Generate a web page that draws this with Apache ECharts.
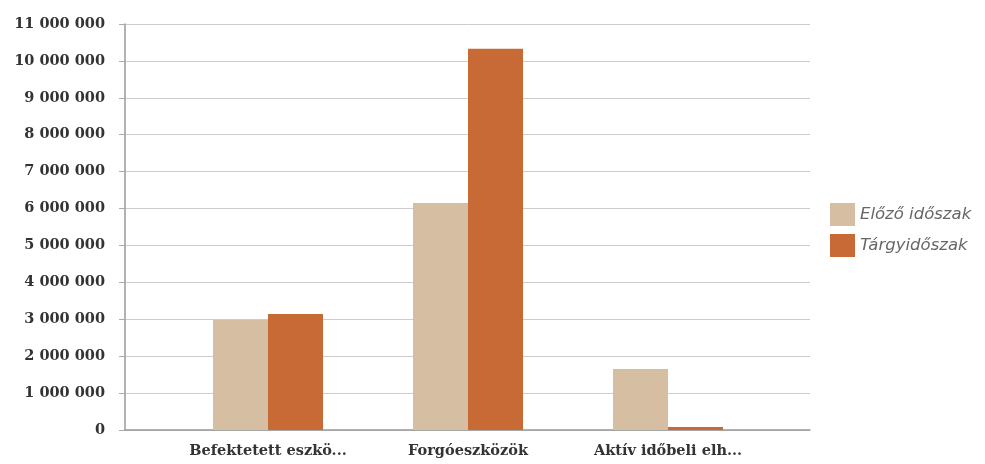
<!DOCTYPE html>
<html>
<head>
<meta charset="utf-8">
<script src="https://cdn.jsdelivr.net/npm/echarts@6/dist/echarts.min.js"></script>
<style>html,body{margin:0;padding:0;background:#fff;}#c{width:985px;height:464px;}</style>
</head>
<body>
<div id="c"></div>
<script>
var categories = ['Befektetett eszkö...', 'Forgóeszközök', 'Aktív időbeli elh...'];
var seriesNames = ['Előző időszak', 'Tárgyidőszak'];
var elozo = [2980000, 6150000, 1650000];
var targy = [3140000, 10330000, 80000];
var yMax = 11000000;
var yStep = 1000000;

function fmt(v) {
  return String(v).replace(/\B(?=(\d{3})+(?!\d))/g, ' ');
}

var chart = echarts.init(document.getElementById('c'));
chart.setOption({
  animation: false,
  backgroundColor: '#fff',
  legend: {
    orient: 'vertical',
    left: 825,
    top: 198,
    itemWidth: 25,
    itemHeight: 23,
    itemGap: 8,
    icon: 'rect',
    textStyle: { fontFamily: 'DejaVu Sans', fontStyle: 'italic', fontSize: 16.5, color: '#666', padding: [0, 0, 0, 0] },
    data: seriesNames
  },
  grid: [
    { left: 125, right: 175, top: 24, bottom: 34 },
    { left: 168, right: 217, top: 24, bottom: 34 }
  ],
  xAxis: [
    { gridIndex: 0, type: 'value', min: 0, max: 1, show: true,
      axisLine: { show: true, lineStyle: { color: '#999', width: 1.5 } },
      axisTick: { show: false }, axisLabel: { show: false }, splitLine: { show: false } },
    { gridIndex: 1, type: 'category', data: categories,
      axisLine: { show: false }, axisTick: { show: false },
      axisLabel: { interval: 0, hideOverlap: false, margin: 14, fontFamily: 'DejaVu Serif', fontWeight: 'bold', fontSize: 14.5, color: '#333' } }
  ],
  yAxis: [
    { gridIndex: 0, type: 'value', min: 0, max: yMax, interval: yStep,
      axisLine: { show: true, lineStyle: { color: '#999', width: 1.5 } },
      axisTick: { show: true, inside: false, length: 6, lineStyle: { color: '#aaa' } },
      axisLabel: { margin: 20, formatter: fmt, fontFamily: 'DejaVu Serif', fontWeight: 'bold', fontSize: 14.5, color: '#333' },
      splitLine: { show: true, lineStyle: { color: '#ccc', width: 1 } } },
    { gridIndex: 1, type: 'value', min: 0, max: yMax, interval: yStep, show: false,
      splitLine: { show: false } }
  ],
  series: [
    { name: seriesNames[0], type: 'bar', xAxisIndex: 1, yAxisIndex: 1, data: elozo,
      barGap: '0%', barCategoryGap: '45%', itemStyle: { color: '#d6bea2' } },
    { name: seriesNames[1], type: 'bar', xAxisIndex: 1, yAxisIndex: 1, data: targy,
      barGap: '0%', barCategoryGap: '45%', itemStyle: { color: '#c86a36' } }
  ]
});
</script>
</body>
</html>
